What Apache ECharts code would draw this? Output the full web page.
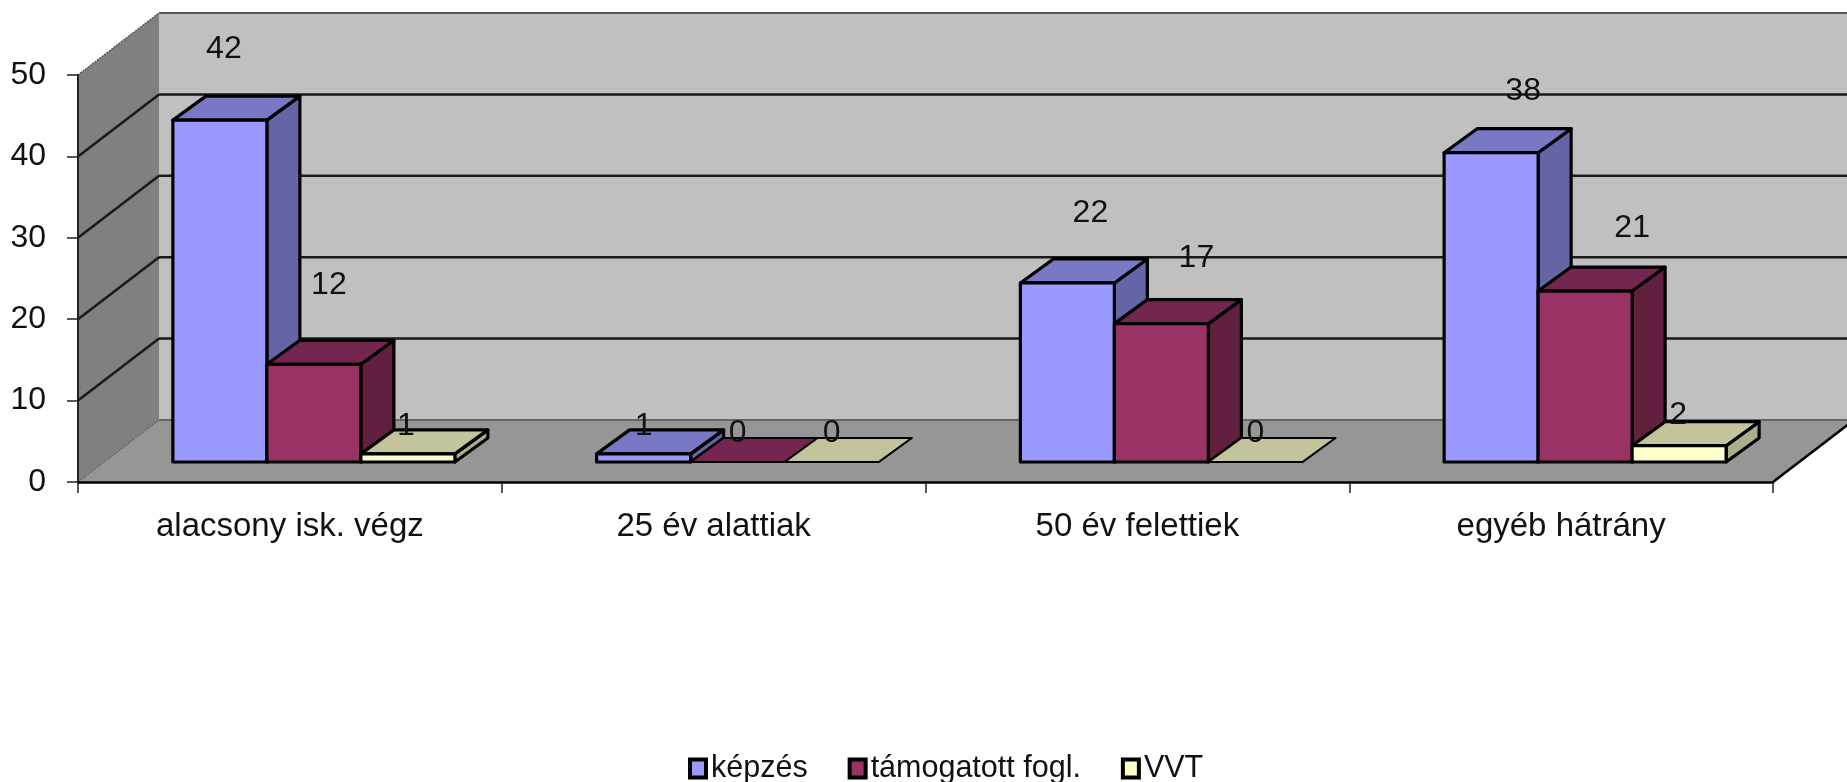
<!DOCTYPE html>
<html><head><meta charset="utf-8">
<style>html,body{margin:0;padding:0;background:#fff}#c{width:1847px;height:782px}</style>
<script src="https://cdn.jsdelivr.net/npm/echarts@6/dist/echarts.min.js"></script>
</head><body><div id="c"></div>
<script>
const categories = ['alacsony isk. végz', '25 év alattiak', '50 év felettiek', 'egyéb hátrány'];
const kepzes = [42, 1, 22, 38];
const tamogatott = [12, 0, 17, 21];
const vvt = [1, 0, 0, 2];
const seriesNames = ['képzés', 'támogatott fogl.', 'VVT'];
const yTicks = [0, 10, 20, 30, 40, 50];

// Styling only: faces of each bar [front, top, side]
const faces = [['#9999FF','#7878C4','#6464A6'],['#993366','#752650','#62203F'],['#FFFFCC','#C4C49C','#ADAD8C']];
// Hand-placed label nudges relative to the bar's front-top centre, per series / category
const labelNudge = [
  [[4,-71],[0,-28],[23,-70],[32,-62]],
  [[15,-79],[0,-29],[35,-65],[47,-63]],
  [[-2,-28],[0,-29],[0,-29],[-1,-31]]
];
const WALL = {dx:81, dy:-62}, FLOOR = {dx:24, dy:-20}, DEPTH = {dx:33, dy:-24}, BAR_RATIO = 94/423.75;
const black = '#000';

function poly(points, fill, stroke, lw){
  return {type:'polygon', shape:{points}, style:{fill, stroke:stroke||null, lineWidth:lw||0, lineJoin:'round'}};
}
function line(x1,y1,x2,y2,stroke,lw,dash){
  return {type:'line', shape:{x1,y1,x2,y2}, style:{stroke, lineWidth:lw, lineDash:dash||null}};
}
function renderWalls(params, api){
  const cs = params.coordSys;
  const L = cs.x, R = cs.x+cs.width, B = cs.y+cs.height, T = cs.y;
  const d = WALL;
  const kids = [
    poly([[L+d.dx,T+d.dy],[R+d.dx+200,T+d.dy],[R+d.dx+200,B+d.dy],[L+d.dx,B+d.dy]],'#C0C0C0'),
    poly([[L,T],[L+d.dx,T+d.dy],[L+d.dx,B+d.dy],[L,B]],'#808080'),
    poly([[L,B],[R,B],[R+d.dx,B+d.dy],[L+d.dx,B+d.dy]],'#969696')
  ];
  yTicks.forEach(t=>{
    const y = api.coord([0,t])[1];
    const edge = t===0 || t===50;
    const col = t===0 ? '#666' : (t===50 ? '#555' : '#1a1a1a');
    kids.push(line(L,y,L+d.dx,y+d.dy, col, edge?1.5:2.5, edge?[2,1]:null));
    kids.push(line(L+d.dx,y+d.dy,1860,y+d.dy, col, edge?2:2.5));
  });
  kids.push(line(R,B,R+d.dx,B+d.dy,black,2.5));
  return {type:'group', children:kids};
}
function makeBarRenderer(sIdx){
  return function(params, api){
    const c = api.value(0), v = api.value(1);
    const top = api.coord([c,v]), base = api.coord([c,0]);
    const w = api.size([1,0])[0]*BAR_RATIO;
    const x0 = top[0]+FLOOR.dx+(sIdx-1.5)*w, x1 = x0+w;
    const yT = top[1]+FLOOR.dy, yB = base[1]+FLOOR.dy;
    const D = DEPTH, f = faces[sIdx];
    const lw = v===0 ? 2 : 3.2;
    const kids = [
      poly([[x1,yB],[x1+D.dx,yB+D.dy],[x1+D.dx,yT+D.dy],[x1,yT]], f[2], black, lw),
      poly([[x0,yT],[x0+D.dx,yT+D.dy],[x1+D.dx,yT+D.dy],[x1,yT]], f[1], black, lw),
      poly([[x0,yB],[x1,yB],[x1,yT],[x0,yT]], f[0], black, lw)
    ];
    const n = labelNudge[sIdx][c];
    kids.push({type:'text', z2:50, style:{text:String(v), x:(x0+x1)/2+n[0], y:yT+n[1], align:'center', verticalAlign:'middle',
      fontFamily:'Liberation Sans', fontSize:32, fill:'#111'}});
    return {type:'group', children:kids};
  };
}
const chart = echarts.init(document.getElementById('c'), null, {renderer:'canvas'});
const values = [kepzes, tamogatott, vvt];
const legendBorder = {borderColor:black, borderWidth:4, borderType:'solid'};
chart.setOption({
  animation:false,
  backgroundColor:'#fff',
  textStyle:{fontFamily:'Liberation Sans'},
  grid:{left:78, top:75, width:1695, height:407, containLabel:false},
  legend:{
    data:seriesNames.map((name,i)=>({name, icon:'rect', itemStyle:Object.assign({color:faces[i][0]}, legendBorder)})),
    left:683, top:748, itemWidth:16, itemHeight:18, itemGap:40,
    textStyle:{fontFamily:'Liberation Sans', fontSize:30.5, color:'#111'},
    selectedMode:false
  },
  xAxis:{type:'category', data:categories, z:5,
    axisLine:{show:true, lineStyle:{color:black, width:2.5}},
    axisTick:{show:true, length:11, lineStyle:{color:'#222', width:1.5}},
    axisLabel:{interval:0, fontFamily:'Liberation Sans', fontSize:33, color:'#111', margin:28}
  },
  yAxis:{type:'value', min:0, max:50, interval:10, z:5,
    splitLine:{show:false},
    axisLine:{show:true, lineStyle:{color:'#222', width:2}},
    axisTick:{show:true, length:11, lineStyle:{color:'#222', width:1.5}},
    axisLabel:{fontFamily:'Liberation Sans', fontSize:32, color:'#111', margin:32}
  },
  series:[
    {type:'custom', name:'walls', z:1, silent:true, renderItem:renderWalls, data:[[0,0]], encode:{x:0,y:1}}
  ].concat(values.map((arr,i)=>({
    type:'custom', name:seriesNames[i], z:2+i, renderItem:makeBarRenderer(i), clip:false,
    itemStyle:{color:faces[i][0]},
    encode:{x:0,y:1},
    data:arr.map((v,c)=>[c,v])
  })))
});
</script></body></html>
